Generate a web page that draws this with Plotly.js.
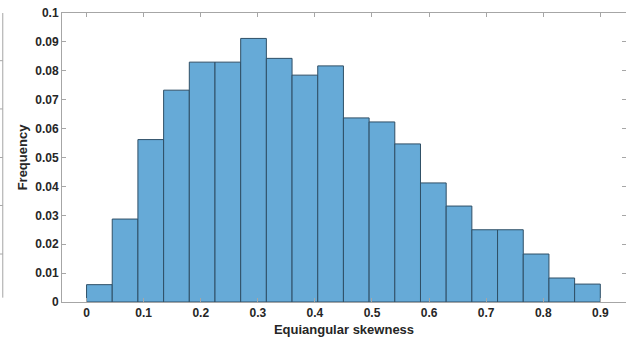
<!DOCTYPE html>
<html>
<head>
<meta charset="utf-8">
<script src="https://cdn.plot.ly/plotly-3.0.1.min.js"></script>
<style>html,body{margin:0;padding:0;background:#fff;overflow:hidden}</style>
</head>
<body>
<div id="chart" style="width:626px;height:345px"></div>
<script>
// Histogram of equiangular skewness (bin width 0.045)
const binLeftEdges = [0, 0.045, 0.09, 0.135, 0.18, 0.225, 0.27, 0.315, 0.36, 0.405,
                      0.45, 0.495, 0.54, 0.585, 0.63, 0.675, 0.72, 0.765, 0.81, 0.855];
const frequency = [0.0060, 0.0287, 0.0562, 0.0733, 0.0830, 0.0830, 0.0912, 0.0843, 0.0785, 0.0817,
                   0.0637, 0.0623, 0.0547, 0.0412, 0.0332, 0.0250, 0.0250, 0.0166, 0.0083, 0.0062];
const binWidth = 0.045;
const xTickVals = [0, 0.1, 0.2, 0.3, 0.4, 0.5, 0.6, 0.7, 0.8, 0.9];
const xTickText = ["0", "0.1", "0.2", "0.3", "0.4", "0.5", "0.6", "0.7", "0.8", "0.9"];
const yTickVals = [0, 0.01, 0.02, 0.03, 0.04, 0.05, 0.06, 0.07, 0.08, 0.09, 0.1];
const yTickText = ["0", "0.01", "0.02", "0.03", "0.04", "0.05", "0.06", "0.07", "0.08", "0.09", "0.1"];

const trace = {
  type: 'bar',
  x: binLeftEdges,
  y: frequency,
  width: binWidth,
  offset: 0,
  marker: {color: '#66aad7', line: {color: '#2f4f66', width: 1}},
  hoverinfo: 'none'
};

// fragment of neighbouring panel at the far left
const leftPanelX = -0.105;
const leftTicksY = [0.835, 0.668, 0.5, 0.334, 0.166];
const shapes = [{type:'line', xref:'paper', yref:'paper', x0:leftPanelX, x1:leftPanelX, y0:0.015, y1:1,
                 line:{color:'#a6a6a6', width:1}}];
leftTicksY.forEach(v => shapes.push({type:'line', xref:'paper', yref:'paper',
  x0:leftPanelX - 0.007, x1:leftPanelX, y0:v, y1:v, line:{color:'#a6a6a6', width:1}}));

const fam = 'Liberation Sans, Arial, sans-serif';
const axisFont = {family: fam, size: 12, color: '#262626', weight: 'bold'};
const titleFont = {family: fam, size: 13, color: '#262626', weight: 'bold'};
const layout = {
  width: 626, height: 345,
  margin: {l: 62, r: 0, t: 13, b: 43},
  paper_bgcolor: '#fff', plot_bgcolor: '#fff',
  showlegend: false,
  bargap: 0,
  xaxis: {
    range: [-0.043, 0.945],
    tickmode: 'array', tickvals: xTickVals, ticktext: xTickText,
    ticks: 'inside', ticklen: 4, tickcolor: '#a6a6a6', tickwidth: 1,
    showline: true, linecolor: '#a6a6a6', linewidth: 1, mirror: 'ticks',
    showgrid: false, zeroline: false,
    tickfont: axisFont,
    title: {text: 'Equiangular skewness', font: titleFont, standoff: 5}
  },
  yaxis: {
    range: [0, 0.1],
    tickmode: 'array', tickvals: yTickVals, ticktext: yTickText,
    ticks: 'inside', ticklen: 4, tickcolor: '#a6a6a6', tickwidth: 1,
    showline: true, linecolor: '#a6a6a6', linewidth: 1, mirror: 'ticks',
    showgrid: false, zeroline: false,
    tickfont: axisFont,
    title: {text: 'Frequency', font: titleFont, standoff: 4}
  },
  shapes: shapes
};

Plotly.newPlot('chart', [trace], layout, {displayModeBar: false, staticPlot: true});
</script>
</body>
</html>
